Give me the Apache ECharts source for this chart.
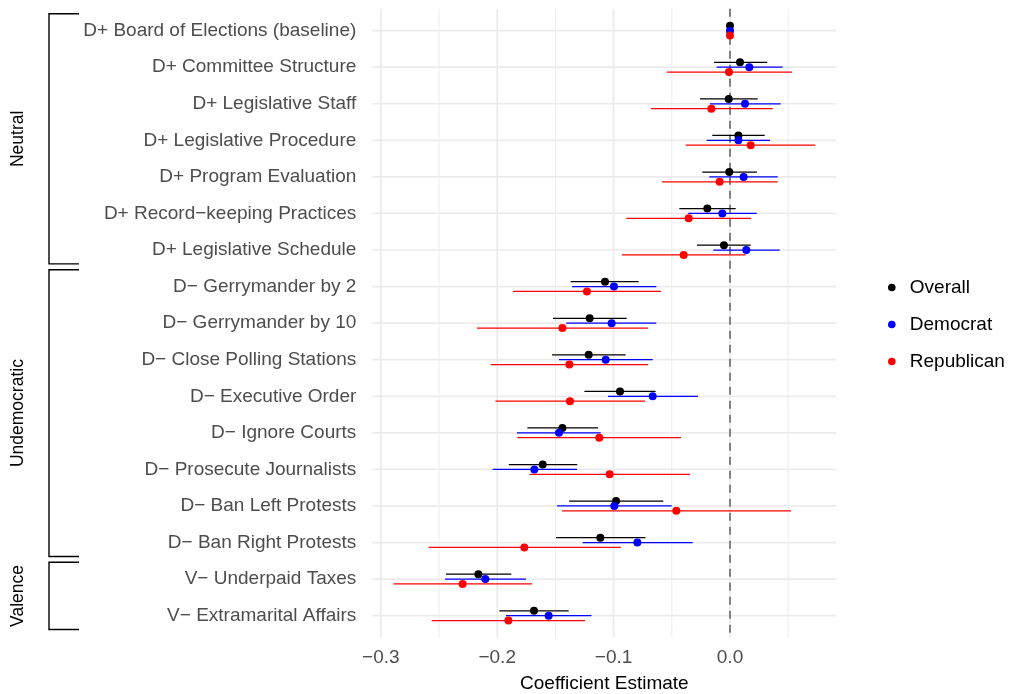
<!DOCTYPE html>
<html>
<head>
<meta charset="utf-8">
<script src="https://cdn.jsdelivr.net/npm/echarts@6/dist/echarts.min.js"></script>
<style>
  html, body { margin: 0; padding: 0; background: #ffffff; }
  #chart { width: 1009px; height: 694px; }
</style>
</head>
<body>
<div id="chart"></div>
<script>
// Treatment conditions, top to bottom
const categories = [
  'D+ Board of Elections (baseline)',
  'D+ Committee Structure',
  'D+ Legislative Staff',
  'D+ Legislative Procedure',
  'D+ Program Evaluation',
  'D+ Record\u2212keeping Practices',
  'D+ Legislative Schedule',
  'D\u2212 Gerrymander by 2',
  'D\u2212 Gerrymander by 10',
  'D\u2212 Close Polling Stations',
  'D\u2212 Executive Order',
  'D\u2212 Ignore Courts',
  'D\u2212 Prosecute Journalists',
  'D\u2212 Ban Left Protests',
  'D\u2212 Ban Right Protests',
  'V\u2212 Underpaid Taxes',
  'V\u2212 Extramarital Affairs'
];

// Coefficient estimates with 95% interval bounds
const overallEst = [0, 0.0086, -0.0011, 0.0072, -0.0006, -0.0195, -0.0052, -0.1074, -0.1206, -0.1214, -0.0945, -0.1440, -0.1609, -0.0979, -0.1114, -0.2162, -0.1684];
const overallLo  = [0, -0.0137, -0.0258, -0.0152, -0.0238, -0.0435, -0.0284, -0.1369, -0.1521, -0.1529, -0.1251, -0.1741, -0.1901, -0.1383, -0.1495, -0.2440, -0.1982];
const overallHi  = [0, 0.0320, 0.0238, 0.0298, 0.0232, 0.0049, 0.0178, -0.0785, -0.0888, -0.0896, -0.0639, -0.1134, -0.1312, -0.0573, -0.0727, -0.1879, -0.1386];

const demEst = [0, 0.0166, 0.0129, 0.0072, 0.0117, -0.0066, 0.0140, -0.0997, -0.1017, -0.1068, -0.0664, -0.1469, -0.1681, -0.0994, -0.0796, -0.2102, -0.1558];
const demLo  = [0, -0.0115, -0.0172, -0.0200, -0.0178, -0.0358, -0.0143, -0.1357, -0.1406, -0.1469, -0.1048, -0.1830, -0.2039, -0.1486, -0.1266, -0.2448, -0.1924];
const demHi  = [0, 0.0452, 0.0435, 0.0344, 0.0410, 0.0229, 0.0427, -0.0633, -0.0633, -0.0664, -0.0275, -0.1111, -0.1314, -0.0501, -0.0321, -0.1753, -0.1191];

const repEst = [0, -0.0009, -0.0160, 0.0178, -0.0089, -0.0355, -0.0398, -0.1229, -0.1440, -0.1380, -0.1375, -0.1123, -0.1034, -0.0461, -0.1767, -0.2297, -0.1904];
const repLo  = [0, -0.0544, -0.0679, -0.0381, -0.0584, -0.0891, -0.0928, -0.1864, -0.2174, -0.2056, -0.2016, -0.1827, -0.1721, -0.1443, -0.2589, -0.2892, -0.2563];
const repHi  = [0, 0.0533, 0.0367, 0.0733, 0.0410, 0.0180, 0.0135, -0.0593, -0.0704, -0.0704, -0.0730, -0.0421, -0.0344, 0.0524, -0.0939, -0.1701, -0.1246];

// Condition groups (first and last row index of each)
const groupNames = ['Neutral', 'Undemocratic', 'Valence'];
const groupStart = [0, 7, 15];
const groupEnd   = [6, 14, 16];

// Axis ticks
const xTicks = [-0.3, -0.2, -0.1, 0.0];
const xMinorTicks = [-0.25, -0.15, -0.05, 0.05];

const FONT = '"Liberation Sans", Arial, Helvetica, sans-serif';

// Axis extents: data range plus 5% on each side, rows padded by 0.6
const allLo = Math.min(...overallLo, ...demLo, ...repLo);
const allHi = Math.max(...overallHi, ...demHi, ...repHi);
const xPad = (allHi - allLo) * 0.05;
const xMin = allLo - xPad;
const xMax = allHi + xPad;
const yMin = -0.6;
const yMax = categories.length - 1 + 0.6;

function rows(est, lo, hi) {
  return est.map((e, i) => [i, e, lo[i], hi[i]]);
}

// Point + horizontal interval, dodged vertically within the row
function intervalSeries(name, color, est, lo, hi, dodge) {
  return {
    name: name,
    type: 'custom',
    z: 5,
    color: color,
    itemStyle: { color: color },
    encode: { y: 0, x: [1, 2, 3] },
    data: rows(est, lo, hi),
    renderItem: function (params, api) {
      const yv = api.value(0) + dodge;
      const a = api.coord([api.value(2), yv]);
      const b = api.coord([api.value(3), yv]);
      const p = api.coord([api.value(1), yv]);
      return {
        type: 'group',
        children: [
          { type: 'line', shape: { x1: a[0], y1: a[1], x2: b[0], y2: b[1] },
            style: { stroke: color, lineWidth: 1.25 } },
          { type: 'circle', shape: { cx: p[0], cy: p[1], r: 4 },
            style: { fill: color } }
        ]
      };
    }
  };
}

const chart = echarts.init(document.getElementById('chart'), null, { renderer: 'canvas' });

const option = {
  backgroundColor: '#ffffff',
  animation: false,
  grid: {
    left: 372.3, right: 172.6, top: 8.7, bottom: 56.4,
    containLabel: false,
    outerBoundsMode: 'none'
  },
  xAxis: {
    type: 'value',
    min: xMin,
    max: xMax,
    name: 'Coefficient Estimate',
    nameLocation: 'middle',
    nameGap: 37,
    nameTextStyle: { color: '#000000', fontSize: 19, fontFamily: FONT },
    axisLine: { show: false },
    axisTick: { show: false },
    splitLine: { show: false },
    axisLabel: {
      customValues: xTicks,
      margin: 11,
      color: '#4D4D4D',
      fontSize: 19,
      fontFamily: FONT,
      formatter: function (v) {
        return (v < 0 ? '\u2212' : '') + Math.abs(v).toFixed(1);
      }
    }
  },
  yAxis: {
    type: 'value',
    inverse: true,
    min: yMin,
    max: yMax,
    axisLine: { show: false },
    axisTick: { show: false },
    splitLine: { show: false },
    axisLabel: {
      customValues: categories.map((c, i) => i),
      margin: 16,
      color: '#4D4D4D',
      fontSize: 19,
      fontFamily: FONT,
      formatter: function (v) { return categories[Math.round(v)]; }
    }
  },
  legend: {
    orient: 'vertical',
    left: 883,
    top: 272.5,
    itemWidth: 26,
    itemHeight: 7.6,
    itemGap: 17,
    selectedMode: false,
    textStyle: { color: '#000000', fontSize: 19, fontFamily: FONT, lineHeight: 20 },
    data: [
      { name: 'Overall', icon: 'circle' },
      { name: 'Democrat', icon: 'circle' },
      { name: 'Republican', icon: 'circle' }
    ]
  },
  series: [
    // vertical grid lines (major at labelled ticks, minor between)
    {
      name: 'xgrid',
      type: 'custom',
      z: 1,
      silent: true,
      data: xTicks.map(v => [v, 1]).concat(xMinorTicks.map(v => [v, 0])),
      encode: { x: 0 },
      renderItem: function (params, api) {
        const cs = params.coordSys;
        const x = api.coord([api.value(0), yMin])[0];
        const major = api.value(1) === 1;
        return { type: 'line',
          shape: { x1: x, y1: cs.y, x2: x, y2: cs.y + cs.height },
          style: { stroke: '#EBEBEB', lineWidth: major ? 1.7 : 0.9 } };
      }
    },
    // horizontal grid line through every row
    {
      name: 'ygrid',
      type: 'custom',
      z: 1,
      silent: true,
      data: categories.map((c, i) => [xMin, i]),
      encode: { y: 1 },
      renderItem: function (params, api) {
        const cs = params.coordSys;
        const y = api.coord([xMin, api.value(1)])[1];
        return { type: 'line',
          shape: { x1: cs.x, y1: y, x2: cs.x + cs.width, y2: y },
          style: { stroke: '#EBEBEB', lineWidth: 1.7 } };
      }
    },
    // reference line at zero
    {
      name: 'zero',
      type: 'custom',
      z: 2,
      silent: true,
      data: [[0]],
      encode: { x: 0 },
      renderItem: function (params, api) {
        const cs = params.coordSys;
        const x = api.coord([api.value(0), yMin])[0];
        return { type: 'line',
          shape: { x1: x, y1: cs.y, x2: x, y2: cs.y + cs.height },
          style: { stroke: '#828282', lineWidth: 2, lineDash: [8, 6] } };
      }
    },
    // condition-group brackets on the far left
    {
      name: 'groups',
      type: 'custom',
      z: 3,
      silent: true,
      clip: false,
      data: groupStart.map((s, i) => [s, groupEnd[i]]),
      encode: { y: [0, 1] },
      renderItem: function (params, api) {
        const yTop = api.coord([xMin, api.value(0) - 0.46])[1];
        const yBot = api.coord([xMin, api.value(1) + 0.38])[1];
        const xv = 49, xa = 79;
        return {
          type: 'group',
          children: [
            { type: 'polyline',
              shape: { points: [[xa, yTop], [xv, yTop], [xv, yBot], [xa, yBot]] },
              style: { stroke: '#000000', lineWidth: 1.4, fill: null } },
            { type: 'text',
              x: 18, y: (yTop + yBot) / 2,
              rotation: Math.PI / 2,
              style: { text: groupNames[params.dataIndex], fill: '#000000',
                font: '17.5px ' + FONT, align: 'center', verticalAlign: 'middle' } }
          ]
        };
      }
    },
    intervalSeries('Overall', '#000000', overallEst, overallLo, overallHi, -0.4 / 3),
    intervalSeries('Democrat', '#0000FF', demEst, demLo, demHi, 0),
    intervalSeries('Republican', '#FF0000', repEst, repLo, repHi, 0.4 / 3)
  ]
};

chart.setOption(option);
</script>
</body>
</html>
